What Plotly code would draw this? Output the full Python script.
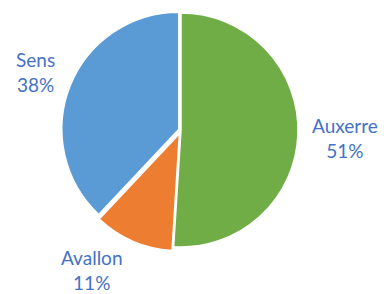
import math
import plotly.graph_objects as go

labels = ["Auxerre", "Avallon", "Sens"]
values = [51, 11, 38]
colors = ["#70AD47", "#ED7D31", "#5B9BD5"]
pulls = [0, 0.035, 0.02]

W, H = 384, 294
cx, cy, r = 181, 130, 117
R_dom = r * (1 + max(pulls))
LABEL_DIST = 163
label_nudge = [(1, 3), (-25, -10), (6, 2)]
TEXT_COLOR = "#4472C4"
FONT = "Lato"

fig = go.Figure(go.Pie(
    labels=labels,
    values=values,
    sort=False,
    direction="clockwise",
    rotation=0,
    pull=pulls,
    marker=dict(colors=colors, line=dict(color="white", width=1.5)),
    textinfo="none",
    domain=dict(x=[(cx - R_dom) / W, (cx + R_dom) / W],
                y=[1 - (cy + R_dom) / H, 1 - (cy - R_dom) / H]),
    showlegend=False,
    hoverinfo="label+percent",
))

total = sum(values)
cum = 0
for lab, v, (nx, ny) in zip(labels, values, label_nudge):
    mid = (cum + v / 2) / total * 2 * math.pi
    cum += v
    px = cx + LABEL_DIST * math.sin(mid) + nx
    py = cy - LABEL_DIST * math.cos(mid) + ny
    fig.add_annotation(
        x=px / W, y=1 - py / H, xref="paper", yref="paper",
        text=f"{lab}<br>{round(v / total * 100)}%",
        showarrow=False, xanchor="center", yanchor="middle",
        font=dict(color=TEXT_COLOR, size=19, family=FONT),
    )

fig.update_layout(
    width=W, height=H,
    margin=dict(l=0, r=0, t=0, b=0),
    paper_bgcolor="white",
    plot_bgcolor="white",
)

fig.write_html(
    "out.html",
    config={"displayModeBar": False},
    post_script="document.body.style.margin='0px';document.body.style.overflow='hidden';",
)
